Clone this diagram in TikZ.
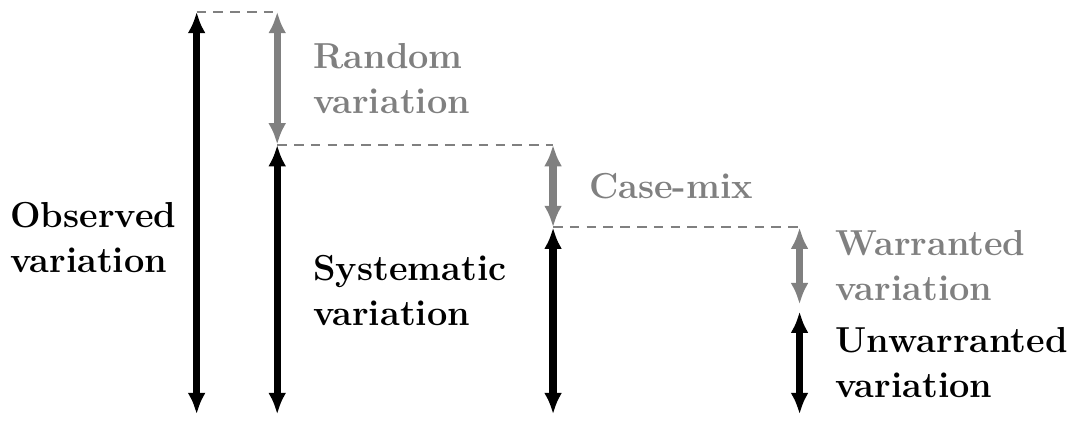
\documentclass[tikz,border=0pt]{standalone}
\usepackage{amsmath}
\usetikzlibrary{arrows.meta,positioning}
\tikzset{
  bar/.style={line width=3pt,{Latex[length=9pt,width=7.5pt]}-{Latex[length=9pt,width=7.5pt]}},
  dashline/.style={gray,line width=0.8pt,dash pattern=on 4pt off 3pt},
  lab/.style={font=\fontsize{15.05}{18.8}\selectfont\bfseries,align=left}
}
\begin{document}
\begin{tikzpicture}
\useasboundingbox (0,0) rectangle (15.7,6.16);
\coordinate (o1) at (2.88,5.99);
\coordinate (o2) at (2.88,0.09);
\coordinate (r1) at (4.06,5.99);
\coordinate (r2) at (4.06,4.04);
\coordinate (s2) at (4.06,0.09);
\coordinate (c1) at (8.1,4.04);
\coordinate (c2) at (8.1,2.83);
\coordinate (p2) at (8.1,0.09);
\coordinate (w1) at (11.71,2.83);
\coordinate (w2) at (11.71,1.70);
\coordinate (u1) at (11.71,1.60);
\coordinate (u2) at (11.71,0.09);
\draw[dashline] (o1) -- (r1);
\draw[dashline] (r2) -- (c1);
\draw[dashline] (c2) -- (w1);
\draw[bar] (o1) -- (o2) node[pos=0.56,left=0.13cm,lab] (observed) {Observed\\variation};
\draw[bar,gray] (r1) -- (r2) node[midway,right=0.36cm,lab] (random) {Random\\variation};
\draw[bar] (r2) -- (s2) node[pos=0.54,right=0.36cm,lab] (systematic) {Systematic\\variation};
\draw[bar,gray] (c1) -- (c2) node[midway,right=0.36cm,lab] (casemix) {Case-mix};
\draw[bar] (c2) -- (p2);
\draw[bar,gray] (w1) -- (w2) node[midway,right=0.36cm,lab] (warranted) {Warranted\\variation};
\draw[bar] (u1) -- (u2) node[midway,right=0.36cm,lab] (unwarranted) {Unwarranted\\variation};
\end{tikzpicture}
\end{document}
